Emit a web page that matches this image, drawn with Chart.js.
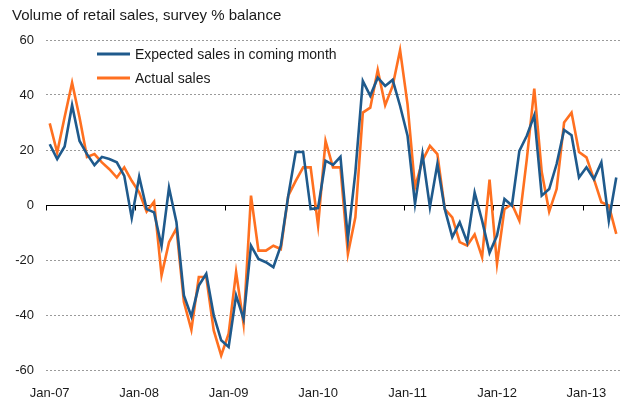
<!DOCTYPE html>
<html>
<head>
<meta charset="utf-8">
<script src="https://cdn.jsdelivr.net/npm/chart.js@4"></script>
<style>
  html, body { margin: 0; padding: 0; background: #fff; }
  #wrap { width: 627px; height: 403px; position: relative; }
</style>
</head>
<body>
<div id="wrap"><canvas id="retailChart" width="627" height="403"></canvas></div>
<script>
// Retail sales survey balances, monthly Jan-07 .. May-13

const years = ['07', '08', '09', '10', '11', '12', '13'];
const monthNames = ['Jan', 'Feb', 'Mar', 'Apr', 'May', 'Jun', 'Jul', 'Aug', 'Sep', 'Oct', 'Nov', 'Dec'];
const lastYearMonths = 5; // data runs to May-13

const expectedSales = [
    22.1, 16.7, 21.3, 36.3, 23.3, 18.5, 14.5, 17.5, 16.7, 15.5, 10.6, -4.7,
    10.3, -1.5, -2.7, -15, 6.3, -6.3, -32.9, -40.5, -29.3, -25, -40.1, -49.2,
    -51.6, -32.9, -41.4, -14.8, -19.6, -20.8, -22.6, -14.8, 3.4, 19.3, 19.3, -1.5,
    -1.1, 16.1, 14.6, 17.5, -12.3, 11.9, 45.1, 39.7, 46.3, 43.3, 45.5, 36,
    25.2, 0.4, 18.5, -0.8, 14.9, -1.5, -11.7, -6.3, -13.5, 4.5, -5.7, -17.4,
    -11.1, 2.2, -0.2, 19.7, 25.2, 32.6, 3.4, 5.8, 14.9, 27.3, 25.4, 10,
    13.7, 9.4, 15.5, -5.7, 10
];

const actualSales = [
    29.7, 19.1, 32, 44.5, 31.8, 17.5, 18.5, 15.5, 13, 10, 13.7, 8.8,
    4.6, -2.4, 1.2, -25.6, -13.5, -8.5, -35.3, -45.4, -26.2, -26.2, -45.6, -54.7,
    -46.8, -24.4, -43.2, 3.4, -16.6, -16.6, -14.8, -16, 3.4, 8.8, 13.7, 13.7,
    -7.5, 23.3, 13.7, 13.7, -17.8, -4.5, 33.6, 35.4, 49.1, 36.3, 43.3, 56.3,
    36.6, 6.4, 16.1, 21.5, 18.5, -1.5, -4.5, -13.5, -14.8, -10.7, -19, 9.2,
    -21.4, -1.5, 0.4, -5.7, 16.7, 42.3, 12, -2.4, 5.8, 30, 33.6, 19.3,
    17.3, 9.4, 1, -0.2, -10.5
];

const yTicks = [-60, -40, -20, 0, 20, 40, 60];

const seriesNames = ['Expected sales in coming month', 'Actual sales'];
const seriesColors = ['#1f5a8c', '#ff7020'];

// build month labels
const months = [];
years.forEach((yr, yi) => {
    const count = yi === years.length - 1 ? lastYearMonths : 12;
    for (let m = 0; m < count; m++) {
        months.push(monthNames[m] + '-' + yr);
    }
});

const FONT = '"Liberation Sans", Arial, sans-serif';

// title, legend, zero line and year ticks
const decorPlugin = {
    id: 'decor',
    beforeDatasetsDraw(chart) {
        const ctx = chart.ctx;
        const x = chart.scales.x;
        const y = chart.scales.y;
        const y0 = Math.round(y.getPixelForValue(0)) + 0.5;
        const half = (x.getPixelForValue(1) - x.getPixelForValue(0)) / 2;

        ctx.save();
        ctx.strokeStyle = '#000';
        ctx.lineWidth = 1;
        ctx.beginPath();
        ctx.moveTo(chart.chartArea.left, y0);
        ctx.lineTo(chart.chartArea.right, y0);
        // year boundary ticks
        for (let i = 0; i < months.length; i += 12) {
            const px = Math.round(x.getPixelForValue(i) - half) + 0.5;
            ctx.moveTo(px, y0);
            ctx.lineTo(px, y0 + 5);
        }
        ctx.stroke();
        ctx.restore();
    },
    afterDraw(chart) {
        const ctx = chart.ctx;
        ctx.save();
        ctx.fillStyle = '#1a1a1a';
        ctx.textBaseline = 'middle';
        ctx.font = '15px ' + FONT;
        ctx.fillText('Volume of retail sales, survey % balance', 12, 16);

        ctx.font = '14px ' + FONT;
        seriesNames.forEach((name, i) => {
            const ly = 54 + i * 24;
            ctx.strokeStyle = seriesColors[i];
            ctx.lineWidth = 3;
            ctx.beginPath();
            ctx.moveTo(97, ly);
            ctx.lineTo(130, ly);
            ctx.stroke();
            ctx.fillText(name, 135, ly + 1);
        });
        ctx.restore();
    }
};

const ctx = document.getElementById('retailChart').getContext('2d');
new Chart(ctx, {
    type: 'line',
    data: {
        labels: months,
        datasets: [{
            label: seriesNames[0],
            data: expectedSales,
            borderColor: seriesColors[0],
            borderWidth: 2.6,
            pointRadius: 0,
            tension: 0,
            fill: false
        }, {
            label: seriesNames[1],
            data: actualSales,
            borderColor: seriesColors[1],
            borderWidth: 2.6,
            pointRadius: 0,
            tension: 0,
            fill: false
        }]
    },
    options: {
        responsive: false,
        animation: false,
        layout: {
            padding: { left: 0, right: 7, top: 40, bottom: 0 }
        },
        plugins: {
            legend: { display: false },
            tooltip: { enabled: false }
        },
        scales: {
            x: {
                type: 'category',
                offset: true,
                grid: { display: false },
                border: { display: false },
                ticks: {
                    autoSkip: false,
                    maxRotation: 0,
                    minRotation: 0,
                    padding: 8,
                    color: '#1a1a1a',
                    font: { size: 13, family: FONT },
                    callback: function(val, index) {
                        return index % 12 === 0 ? months[index] : '';
                    }
                },
                afterFit: function(scale) {
                    scale.height = 33;
                }
            },
            y: {
                min: yTicks[0],
                max: yTicks[yTicks.length - 1],
                afterBuildTicks: function(scale) {
                    scale.ticks = yTicks.map(v => ({ value: v }));
                },
                grid: {
                    drawTicks: false,
                    color: function(c) {
                        return c.tick && c.tick.value === 0 ? 'rgba(0,0,0,0)' : '#9a9a9a';
                    },
                    lineWidth: 1
                },
                border: { display: false, dash: [2, 2] },
                ticks: {
                    padding: 12,
                    color: '#1a1a1a',
                    font: { size: 13, family: FONT }
                },
                afterFit: function(scale) {
                    scale.width = 46;
                }
            }
        }
    },
    plugins: [decorPlugin]
});
</script>
</body>
</html>
